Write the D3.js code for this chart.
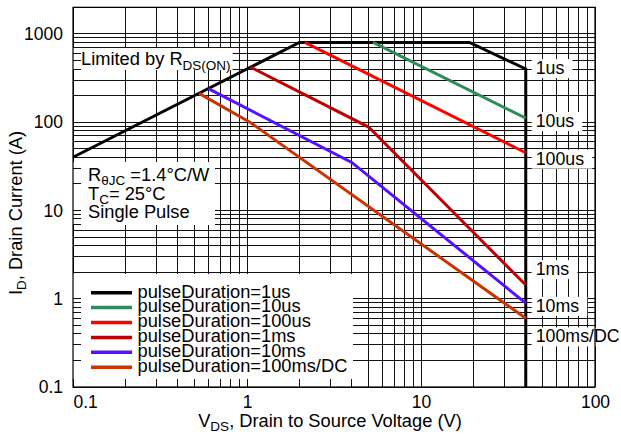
<!DOCTYPE html>
<html>
<head>
<meta charset="utf-8">
<script src="https://cdn.jsdelivr.net/npm/d3@7"></script>
<style>
  body { margin: 0; background: #fff; }
  svg text { font-family: "Liberation Sans", Arial, sans-serif; fill: #000; }
</style>
</head>
<body>
<svg id="chart"></svg>
<script>
// pulse durations, in legend order
const durations = ['1us', '10us', '100us', '1ms', '10ms', '100ms/DC'];
const colors = ['#000000', '#2e8b57', '#ff0000', '#c00000', '#5511ff', '#cc3300'];

// SOA boundaries (V_DS in V, I_D in A)
const vds1us = [0.1, 2, 19, 40, 40];
const id1us = [40, 800, 800, 400, 0.1];
const vds10us = [5.3, 40];
const id10us = [800, 111];
const vds100us = [2.15, 40];
const id100us = [800, 45];
const vds1ms = [1.05, 5, 40];
const id1ms = [420, 88, 1.43];
const vds10ms = [0.6, 4, 40];
const id10ms = [240, 35, 0.89];
const vds100ms = [0.53, 1.04, 40];
const id100ms = [212, 100, 0.6];

// where the duration tags sit on the right (V, A at text baseline)
const tagVds = 45;
const tagId = [350, 88, 33, 1.85, 0.71, 0.32];

const xTickValues = [0.1, 1, 10, 100];
const yTickValues = [0.1, 1, 10, 100, 1000];

const allVds = [vds1us, vds10us, vds100us, vds1ms, vds10ms, vds100ms];
const allId = [id1us, id10us, id100us, id1ms, id10ms, id100ms];
const series = durations.map((d, i) => ({
  name: d,
  color: colors[i],
  points: allVds[i].map((v, j) => ({v: v, id: allId[i][j]}))
}));

const width = 621, height = 443;
const margin = {top: 7.3, right: 26, bottom: 56, left: 73};
const fontSize = '18.3px', subSize = '13.5px', tickSize = '17.5px', tagSize = '17.8px';

const svg = d3.select('#chart')
    .attr('width', width)
    .attr('height', height);

const x = d3.scaleLog()
    .domain([0.1, 100])
    .range([margin.left, width - margin.right]);

const y = d3.scaleLog()
    .domain([0.1, 2000])
    .range([height - margin.bottom, margin.top]);

const x0 = x.range()[0], x1 = x.range()[1];
const y0 = y.range()[0], y1 = y.range()[1];

// grid
const grid = svg.append('g').attr('shape-rendering', 'crispEdges');
grid.selectAll('.vgrid')
    .data(x.ticks())
    .join('line')
    .attr('x1', d => x(d)).attr('x2', d => x(d))
    .attr('y1', y0).attr('y2', y1)
    .attr('stroke', '#111').attr('stroke-width', 1);
grid.selectAll('.hgrid')
    .data(y.ticks())
    .join('line')
    .attr('y1', d => y(d)).attr('y2', d => y(d))
    .attr('x1', x0).attr('x2', x1)
    .attr('stroke', '#111').attr('stroke-width', 1);

// helper: white box behind a text element
function boxBehind(g, textSel, pad) {
  const b = textSel.node().getBBox();
  g.insert('rect', 'text')
      .attr('x', pad.left != null ? b.x - pad.left : x0)
      .attr('y', b.y - pad.top)
      .attr('width', (pad.left != null ? b.width + pad.left : b.x + b.width - x0) + pad.right)
      .attr('height', b.height + pad.top + pad.bottom)
      .attr('fill', '#fff');
}

// annotation: Limited by R_DS(ON)
const limG = svg.append('g');
const limT = limG.append('text')
    .attr('x', 81).attr('y', 65)
    .style('font-size', fontSize);
limT.append('tspan').text('Limited by R');
limT.append('tspan').attr('dy', 5).style('font-size', subSize).text('DS(ON)');
boxBehind(limG, limT, {top: 0, bottom: -3, right: 2});

// annotation: thermal conditions
const condG = svg.append('g');
const condT = condG.append('text').style('font-size', fontSize);
const l1 = condT.append('tspan').attr('x', 88).attr('y', 181);
l1.append('tspan').text('R');
l1.append('tspan').attr('dy', 4).style('font-size', subSize).text('θJC');
l1.append('tspan').attr('dy', -4).text(' =1.4°C/W');
const l2 = condT.append('tspan').attr('x', 88).attr('y', 200);
l2.append('tspan').text('T');
l2.append('tspan').attr('dy', 4).style('font-size', subSize).text('C');
l2.append('tspan').attr('dy', -4).text('= 25°C');
condT.append('tspan').attr('x', 88).attr('y', 218).text('Single Pulse');
boxBehind(condG, condT, {top: 2, bottom: 3, right: 5});

// legend box
const legend = svg.append('g');
legend.append('rect')
    .attr('x', x0).attr('y', 274)
    .attr('width', 280).attr('height', y0 - 274)
    .attr('fill', '#fff');
const rows = legend.selectAll('.row')
    .data(series)
    .join('g')
    .attr('transform', (d, i) => `translate(0,${292.7 + i * 14.9})`);
rows.append('line')
    .attr('x1', 91).attr('x2', 132)
    .attr('stroke', d => d.color)
    .attr('stroke-width', 3.5);
rows.append('text')
    .attr('x', 137.5).attr('y', 4.8)
    .style('font-size', fontSize)
    .text(d => 'pulseDuration=' + d.name);

// duration tags on the right
series.forEach((s, i) => {
  const g = svg.append('g');
  const t = g.append('text')
      .attr('x', x(tagVds) + 1)
      .attr('y', y(tagId[i]))
      .style('font-size', tagSize)
      .text(s.name);
  boxBehind(g, t, {left: 4, top: -1, bottom: 0, right: 8});
});

// SOA curves
const line = d3.line()
    .x(d => x(d.v))
    .y(d => y(d.id));
svg.append('g')
    .selectAll('path')
    .data(series)
    .join('path')
    .attr('d', d => line(d.points))
    .attr('fill', 'none')
    .attr('stroke', d => d.color)
    .attr('stroke-width', 3)
    .attr('stroke-linejoin', 'miter');

// inward minor ticks on left and bottom
const ticks = svg.append('g').attr('shape-rendering', 'crispEdges');
ticks.selectAll('.lt')
    .data(y.ticks())
    .join('line')
    .attr('x1', x0).attr('x2', x0 + 8)
    .attr('y1', d => y(d)).attr('y2', d => y(d))
    .attr('stroke', '#111');
ticks.selectAll('.bt')
    .data(x.ticks())
    .join('line')
    .attr('x1', d => x(d)).attr('x2', d => x(d))
    .attr('y1', y0).attr('y2', y0 - 8)
    .attr('stroke', '#111');

// frame
svg.append('rect')
    .attr('x', x0).attr('y', y1)
    .attr('width', x1 - x0).attr('height', y0 - y1)
    .attr('fill', 'none')
    .attr('stroke', '#000')
    .attr('stroke-width', 1.2);

// axes labels
const fmt = d => d < 1 ? '0.1' : String(d);
const xAxis = d3.axisBottom(x)
    .tickValues(xTickValues)
    .tickFormat(fmt)
    .tickSize(0)
    .tickPadding(9);
const xg = svg.append('g')
    .attr('transform', `translate(0,${y0})`)
    .call(xAxis);
xg.select('.domain').remove();
xg.attr('font-family', null).attr('font-size', null);
xg.selectAll('text').style('font-size', tickSize)
    .filter(d => d === 0.1).attr('text-anchor', 'start');

const yAxis = d3.axisLeft(y)
    .tickValues(yTickValues)
    .tickFormat(fmt)
    .tickSize(0)
    .tickPadding(10);
const yg = svg.append('g')
    .attr('transform', `translate(${x0},0)`)
    .call(yAxis);
yg.select('.domain').remove();
yg.attr('font-family', null).attr('font-size', null);
yg.selectAll('text').style('font-size', tickSize);

// axis titles
const xt = svg.append('text')
    .attr('x', 330).attr('y', 427)
    .attr('text-anchor', 'middle')
    .style('font-size', fontSize);
xt.append('tspan').text('V');
xt.append('tspan').attr('dy', 4).style('font-size', subSize).text('DS');
xt.append('tspan').attr('dy', -4).text(', Drain to Source Voltage (V)');

const yt = svg.append('text')
    .attr('transform', 'translate(22,213) rotate(-90)')
    .attr('text-anchor', 'middle')
    .style('font-size', fontSize);
yt.append('tspan').text('I');
yt.append('tspan').attr('dy', 4).style('font-size', subSize).text('D');
yt.append('tspan').attr('dy', -4).text(', Drain Current (A)');
</script>
</body>
</html>
